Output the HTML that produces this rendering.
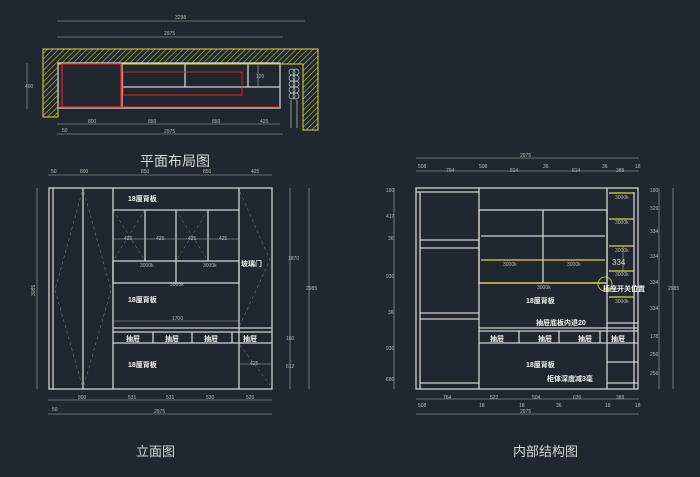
<!DOCTYPE html>
<html><head><meta charset="utf-8"><style>
html,body{margin:0;padding:0;background:#212730;}
svg{display:block}
text{font-family:"Liberation Sans","Noto Sans CJK SC",sans-serif;fill:#d8d8d8}
.d{font-size:5px;fill:#b8b8b8}
.w{stroke:#d0d0d0;stroke-width:1.3;fill:none}
.t{stroke:#b0b0b0;stroke-width:0.6;fill:none}
.g{stroke:#8a8a8a;stroke-width:0.5;fill:none;stroke-dasharray:3 3}
.y{stroke:#d8d83a;stroke-width:1.3}
.l{font-size:7px;fill:#f0f0f0;font-weight:bold}
</style></head><body>
<svg width="700" height="477" viewBox="0 0 700 477" xmlns="http://www.w3.org/2000/svg">
<defs>
<pattern id="h" width="4" height="4" patternUnits="userSpaceOnUse" patternTransform="rotate(45)">
<rect width="4" height="4" fill="#212730"/><line x1="0" y1="0" x2="0" y2="4" stroke="#c8c830" stroke-width="1.2"/></pattern>
</defs>
<!-- PLAN -->
<line class="t" x1="57" y1="21" x2="305" y2="21"/><text class="d" x="175" y="19">3298</text>
<line class="t" x1="57" y1="37" x2="283" y2="37"/><text class="d" x="164" y="35">2975</text>
<path d="M43 49 H318 V130 H303 V64 H58 V117 H43 Z" fill="url(#h)" stroke="#d8d83a" stroke-width="1"/>
<rect x="58" y="63" width="222" height="45" class="w" stroke-width="1"/>
<line class="w" x1="122" y1="64" x2="122" y2="108"/><line class="w" x1="185" y1="64" x2="185" y2="87"/><line class="w" x1="248" y1="64" x2="248" y2="87"/>
<line class="w" x1="122" y1="87" x2="280" y2="87"/>
<rect x="62" y="64" width="59" height="43" fill="none" stroke="#e02020" stroke-width="1.3"/>
<line x1="58" y1="107" x2="280" y2="107" stroke="#e02020" stroke-width="1"/>
<rect x="123" y="72" width="119" height="23" fill="none" stroke="#e02020" stroke-width="1"/>
<line class="t" x1="258" y1="64" x2="258" y2="87"/><text class="d" x="256" y="78">120</text>
<g stroke="#c8c8c8" stroke-width="0.7" fill="none">
<circle cx="292" cy="72" r="3"/><circle cx="296" cy="72" r="3"/><circle cx="292" cy="78" r="3"/><circle cx="296" cy="78" r="3"/>
<circle cx="292" cy="84" r="3"/><circle cx="296" cy="84" r="3"/><circle cx="292" cy="90" r="3"/><circle cx="296" cy="90" r="3"/>
<circle cx="292" cy="96" r="3"/><circle cx="296" cy="96" r="3"/>
<line x1="291" y1="100" x2="291" y2="128"/><line x1="297" y1="100" x2="297" y2="128"/></g>
<line class="t" x1="27" y1="63" x2="27" y2="109"/><text class="d" x="25" y="88">400</text>
<line class="t" x1="57" y1="124" x2="280" y2="124"/>
<text class="d" x="88" y="123">800</text><text class="d" x="148" y="123">850</text><text class="d" x="212" y="123">850</text><text class="d" x="260" y="123">425</text>
<text class="d" x="62" y="132">50</text>
<line class="t" x1="57" y1="134" x2="283" y2="134"/><text class="d" x="164" y="133">2975</text>
<text x="140" y="166" font-size="14">平面布局图</text>
<!-- ELEVATION -->
<line class="t" x1="48" y1="175" x2="272" y2="175"/>
<text class="d" x="51" y="173">50</text><text class="d" x="80" y="173">800</text><text class="d" x="141" y="173">850</text><text class="d" x="203" y="173">850</text><text class="d" x="251" y="173">425</text>
<rect x="49" y="188" width="223" height="201" class="w"/>
<line class="w" x1="53" y1="188" x2="53" y2="389"/>
<line class="w" x1="83" y1="188" x2="83" y2="389"/><line class="w" x1="113" y1="188" x2="113" y2="389"/><line class="w" x1="239" y1="188" x2="239" y2="389"/>
<line class="w" x1="113" y1="210" x2="239" y2="210"/>
<line class="w" x1="145" y1="210" x2="145" y2="261"/><line class="w" x1="176" y1="210" x2="176" y2="283"/><line class="w" x1="208" y1="210" x2="208" y2="261"/>
<rect x="113" y="261" width="126" height="22" class="w"/>
<line class="w" x1="113" y1="328" x2="272" y2="328"/><line class="w" x1="113" y1="332" x2="272" y2="332"/><line class="w" x1="113" y1="343" x2="272" y2="343"/>
<line class="w" x1="153" y1="332" x2="153" y2="343"/><line class="w" x1="192" y1="332" x2="192" y2="343"/><line class="w" x1="232" y1="332" x2="232" y2="343"/>
<path class="g" d="M82 192 L55 290 L82 385 M84 192 L111 290 L84 385 M240 192 L270 260 L240 325 M113 210 L145 261 M145 210 L113 261 M176 210 L208 261 M208 210 L176 261 M240 345 L270 385"/>
<line class="t" x1="113" y1="239" x2="239" y2="239"/><line class="t" x1="113" y1="321" x2="239" y2="321"/><line class="t" x1="239" y1="364" x2="272" y2="364"/>
<text class="d" x="124" y="240">425</text><text class="d" x="156" y="240">425</text><text class="d" x="188" y="240">425</text><text class="d" x="219" y="240">425</text>
<text class="d" x="140" y="267">3000k</text><text class="d" x="203" y="267">3000k</text><text class="d" x="170" y="286">3000k</text>
<text class="d" x="172" y="320">1700</text><text class="d" x="250" y="365">425</text>
<text class="l" x="128" y="201">18厘背板</text><text class="l" x="128" y="302">18厘背板</text><text class="l" x="128" y="367">18厘背板</text>
<text class="l" x="241" y="266">玻璃门</text>
<text class="l" x="126" y="341">抽屉</text><text class="l" x="165" y="341">抽屉</text><text class="l" x="204" y="341">抽屉</text><text class="l" x="243" y="341">抽屉</text>
<line class="t" x1="37" y1="188" x2="37" y2="389"/><text class="d" x="32" y="293" transform="rotate(-90 35 293)">3085</text>
<line class="t" x1="290" y1="188" x2="290" y2="389"/><line class="t" x1="309" y1="188" x2="309" y2="389"/>
<text class="d" x="288" y="260">1870</text><text class="d" x="306" y="290">2985</text><text class="d" x="286" y="340">160</text><text class="d" x="286" y="368">612</text>
<line class="t" x1="48" y1="400" x2="272" y2="400"/>
<text class="d" x="78" y="399">800</text><text class="d" x="128" y="399">531</text><text class="d" x="166" y="399">531</text><text class="d" x="206" y="399">530</text><text class="d" x="246" y="399">520</text>
<text class="d" x="52" y="411">50</text>
<line class="t" x1="48" y1="414" x2="272" y2="414"/><text class="d" x="154" y="413">2975</text>
<text x="136" y="456" font-size="13">立面图</text>
<!-- INTERIOR -->
<line class="t" x1="416" y1="158" x2="639" y2="158"/><text class="d" x="520" y="157">2975</text>
<line class="t" x1="416" y1="171" x2="639" y2="171"/>
<text class="d" x="418" y="168">508</text><text class="d" x="446" y="172">764</text><text class="d" x="479" y="168">508</text><text class="d" x="510" y="172">814</text><text class="d" x="543" y="168">36</text><text class="d" x="572" y="172">814</text><text class="d" x="602" y="168">36</text><text class="d" x="616" y="172">389</text><text class="d" x="635" y="168">18</text>
<rect x="416" y="188" width="222" height="201" class="w"/>
<line class="w" x1="420" y1="192" x2="420" y2="389"/><line class="w" x1="416" y1="192" x2="479" y2="192"/>
<line class="w" x1="479" y1="188" x2="479" y2="389"/><line class="w" x1="607" y1="188" x2="607" y2="389"/><line class="w" x1="634" y1="192" x2="634" y2="389"/>
<line class="w" x1="420" y1="240" x2="479" y2="240"/><line class="w" x1="420" y1="248" x2="479" y2="248"/>
<line class="w" x1="420" y1="313" x2="479" y2="313"/><line class="w" x1="420" y1="319" x2="479" y2="319"/>
<line class="w" x1="420" y1="383" x2="479" y2="383"/>
<rect x="479" y="210" width="128" height="73" class="w"/>
<line class="w" x1="543" y1="210" x2="543" y2="283"/><line class="w" x1="481" y1="236" x2="605" y2="236"/>
<line class="y" x1="481" y1="260" x2="605" y2="260"/><line class="y" x1="481" y1="283" x2="605" y2="283"/>
<g class="y"><line x1="609" y1="193" x2="634" y2="193"/><line x1="609" y1="219" x2="634" y2="219"/><line x1="609" y1="246" x2="634" y2="246"/><line x1="609" y1="271" x2="634" y2="271"/><line x1="609" y1="297" x2="634" y2="297"/></g>
<line class="w" x1="607" y1="323" x2="638" y2="323"/>
<line class="w" x1="479" y1="328" x2="638" y2="328"/><line class="w" x1="479" y1="331" x2="638" y2="331"/><line class="w" x1="479" y1="343" x2="638" y2="343"/>
<line class="w" x1="519" y1="331" x2="519" y2="343"/><line class="w" x1="559" y1="331" x2="559" y2="343"/><line class="w" x1="600" y1="331" x2="600" y2="343"/>
<line class="w" x1="607" y1="362" x2="638" y2="362"/><line class="w" x1="607" y1="383" x2="638" y2="383"/>
<circle cx="605" cy="284" r="7" fill="none" stroke="#d8d83a" stroke-width="0.8"/>
<line class="t" x1="623" y1="246" x2="623" y2="271"/><text x="612" y="265" font-size="8" fill="#888">334</text>
<text class="d" x="615" y="199">3000k</text><text class="d" x="615" y="224">3000k</text><text class="d" x="615" y="252">3000k</text><text class="d" x="615" y="276">3000k</text><text class="d" x="615" y="303">3000k</text>
<text class="d" x="503" y="266">3000k</text><text class="d" x="567" y="266">3000k</text><text class="d" x="537" y="289">3000k</text>
<text class="l" x="526" y="303">18厘背板</text><text class="l" x="536" y="325">抽屉底板内退20</text>
<text class="l" x="526" y="367">18厘背板</text><text class="l" x="547" y="381">柜体深度减3毫</text>
<text class="l" x="603" y="291">插座开关位置</text>
<text class="l" x="490" y="341">抽屉</text><text class="l" x="538" y="341">抽屉</text><text class="l" x="578" y="341">抽屉</text><text class="l" x="611" y="341">抽屉</text>
<line class="t" x1="394" y1="188" x2="394" y2="389"/><line class="t" x1="659" y1="188" x2="659" y2="389"/><line class="t" x1="673" y1="188" x2="673" y2="389"/>
<text class="d" x="386" y="192">180</text><text class="d" x="386" y="218">417</text><text class="d" x="388" y="240">36</text><text class="d" x="386" y="278">930</text><text class="d" x="388" y="314">36</text><text class="d" x="386" y="350">930</text><text class="d" x="386" y="381">680</text>
<text class="d" x="650" y="192">180</text><text class="d" x="650" y="210">329</text><text class="d" x="650" y="233">334</text><text class="d" x="650" y="258">334</text><text class="d" x="650" y="284">334</text><text class="d" x="650" y="310">334</text><text class="d" x="650" y="338">178</text><text class="d" x="650" y="356">256</text><text class="d" x="650" y="375">256</text><text class="d" x="668" y="290">2985</text>
<line class="t" x1="416" y1="399" x2="639" y2="399"/>
<text class="d" x="443" y="399">764</text><text class="d" x="490" y="399">522</text><text class="d" x="532" y="399">504</text><text class="d" x="573" y="399">620</text><text class="d" x="616" y="399">389</text>
<text class="d" x="418" y="407">508</text><text class="d" x="479" y="407">18</text><text class="d" x="519" y="407">18</text><text class="d" x="556" y="407">36</text><text class="d" x="605" y="407">18</text><text class="d" x="635" y="407">18</text>
<line class="t" x1="416" y1="414" x2="639" y2="414"/><text class="d" x="520" y="413">2975</text>
<text x="513" y="456" font-size="13">内部结构图</text>
</svg>
</body></html>
